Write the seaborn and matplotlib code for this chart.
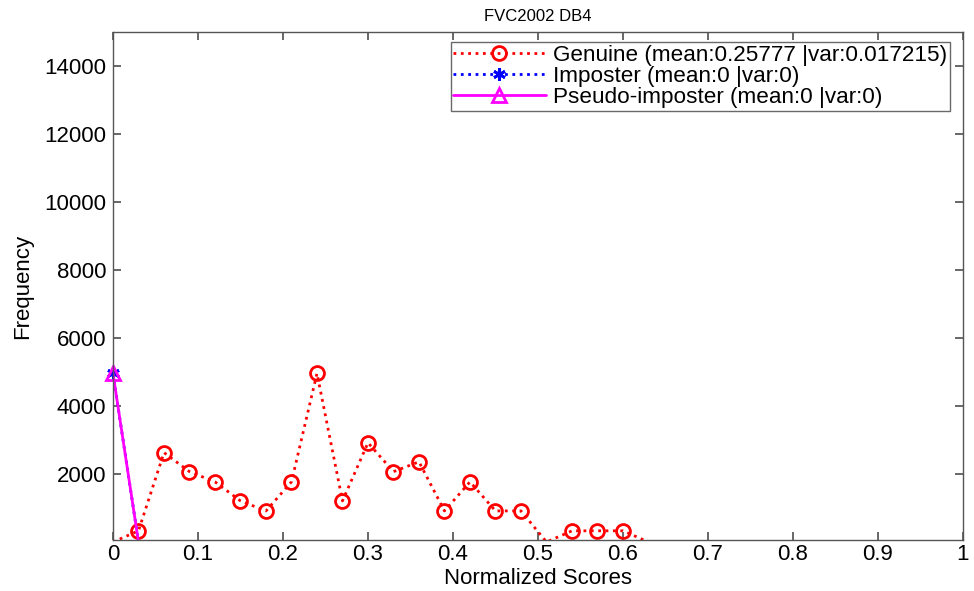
import numpy as np
import pandas as pd
import seaborn as sns
import matplotlib.pyplot as plt
from matplotlib.lines import Line2D

# score bins (step 0.03) and frequencies
scores = [round(0.03 * i, 2) for i in range(34)]
genuine = [0, 330, 2630, 2070, 1770, 1210, 915, 1770, 4960, 1210,
           2920, 2070, 2360, 915, 1770, 915, 915, 0, 330, 330,
           330] + [0] * 13
imposter = [4960] + [0] * 33
pseudo = [4960] + [0] * 33

labels = [
    "Genuine (mean:0.25777 |var:0.017215)",
    "Imposter (mean:0 |var:0)",
    "Pseudo-imposter (mean:0 |var:0)",
]

df = pd.DataFrame({
    "score": scores,
    "genuine": genuine,
    "imposter": imposter,
    "pseudo": pseudo,
})

sns.set_theme(style="ticks")
plt.rcParams["font.family"] = ["Liberation Sans", "DejaVu Sans"]
plt.rcParams["text.color"] = "black"
plt.rcParams["axes.labelcolor"] = "black"
plt.rcParams["xtick.color"] = "black"
plt.rcParams["ytick.color"] = "black"

fig = plt.figure(figsize=(9.74, 5.91), dpi=100)
ax = fig.add_axes([0.116, 0.0863, 0.8727, 0.8596])

asterisk = (6, 2, 0)
series = [
    ("genuine", "red", ":", "o", "none", 10),
    ("imposter", "blue", ":", asterisk, "blue", 9),
    ("pseudo", "magenta", "-", "^", "none", 10),
]

handles = []
for (col, color, ls, mk, mfc, ms), lab in zip(series, labels):
    # full line, zeros included
    sns.lineplot(data=df, x="score", y=col, ax=ax, color=color,
                 linestyle=ls, linewidth=2.0, legend=False)
    # markers only where the bin is non-zero (MATLAB hides the ones on the axis)
    pts = df[df[col] > 0]
    sns.lineplot(data=pts, x="score", y=col, ax=ax, color=color,
                 linestyle="none", marker=mk, markersize=ms,
                 markerfacecolor=mfc, markeredgecolor=color,
                 markeredgewidth=2.0, legend=False, clip_on=False)
    handles.append(Line2D([], [], color=color, linestyle=ls, linewidth=2.0,
                          marker=mk, markersize=ms, markerfacecolor=mfc,
                          markeredgecolor=color, markeredgewidth=2.0))

ax.set_xlim(0, 1)
ax.set_ylim(60, 15000)
ax.set_xticks(np.arange(0, 1.01, 0.1))
ax.set_xticklabels(["0", "0.1", "0.2", "0.3", "0.4", "0.5", "0.6",
                    "0.7", "0.8", "0.9", "1"])
ax.set_yticks(range(2000, 14001, 2000))

for sp in ax.spines.values():
    sp.set_visible(True)
    sp.set_color("#555555")
    sp.set_linewidth(1.0)
ax.tick_params(direction="in", top=True, right=True, length=6,
               color="#555555", labelsize=16, pad=5)
ax.tick_params(axis="x", pad=3)

ax.set_title("FVC2002 DB4", fontsize=12, pad=8)
ax.set_xlabel("Normalized Scores", fontsize=16, labelpad=2)
ax.set_ylabel("Frequency", fontsize=16, labelpad=8)

leg = ax.legend(handles, labels, loc="upper right", fontsize=16.2,
                frameon=True, fancybox=False, handlelength=4.1,
                borderpad=0.12, labelspacing=0.0, handletextpad=0.35,
                borderaxespad=0.0, bbox_to_anchor=(0.985, 0.98))
leg.get_frame().set_edgecolor("#444444")
leg.get_frame().set_linewidth(1.0)

fig.savefig("out.png", dpi=100)
